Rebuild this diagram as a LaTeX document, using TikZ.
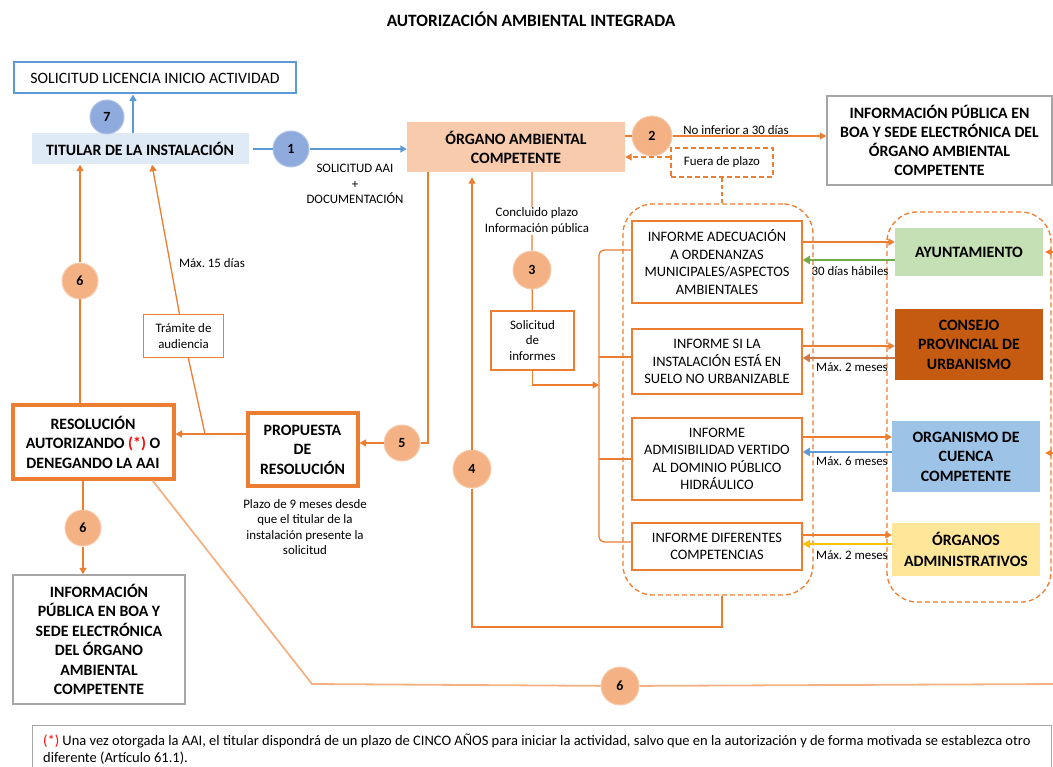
\documentclass[tikz,border=0pt]{standalone}
\usepackage{fontspec}
\setmainfont{Carlito}
\usetikzlibrary{positioning,arrows.meta}
\frenchspacing

\definecolor{naranja}{RGB}{237,125,49}
\definecolor{naranjaclaro}{RGB}{244,177,131}
\definecolor{salmon}{RGB}{248,203,173}
\definecolor{azul}{RGB}{91,155,213}
\definecolor{azulcirc}{RGB}{143,170,220}
\definecolor{azulclaro}{RGB}{222,235,247}
\definecolor{gris}{RGB}{166,166,166}
\definecolor{verde}{RGB}{112,173,71}
\definecolor{verdeclaro}{RGB}{197,224,180}
\definecolor{marron}{RGB}{197,90,17}
\definecolor{marronclaro}{RGB}{205,120,70}
\definecolor{celeste}{RGB}{157,195,230}
\definecolor{amarillo}{RGB}{255,230,153}
\definecolor{ambar}{RGB}{255,192,0}
\definecolor{rojo}{RGB}{255,0,0}

\begin{document}
\frenchspacing
\begin{tikzpicture}[x=1pt,y=-1pt]
		\tikzset{caja/.style = {shape=rectangle,align=center,inner sep=0pt,font=\fontsize{15.8}{19}\selectfont\bfseries}}
		\tikzset{informe/.style = {shape=rectangle,align=center,inner sep=0pt,draw=naranja,line width=1.5pt,fill=white,minimum width=170pt,font=\fontsize{14.4}{17.5}\selectfont}}
		\tikzset{peq/.style = {align=center,inner sep=1pt,font=\fontsize{12.9}{15.5}\selectfont}}
		\tikzset{circ/.style = {shape=circle,fill=naranjaclaro,draw=salmon,line width=1pt,inner sep=0pt,minimum size=37pt,font=\fontsize{14}{14}\selectfont\bfseries}}
		\tikzset{circazul/.style = {circ,fill=azulcirc,draw=azulcirc!70!white}}
		\tikzset{grupo/.style = {draw=naranja,line width=1.3pt,dash pattern=on 5pt off 3pt,rounded corners=30pt}}
		\tikzset{linea/.style = {draw=naranja,line width=1.3pt}}
		\tikzset{lineaclara/.style = {draw=naranjaclaro,line width=1.8pt}}
		\tikzset{flecha/.style = {linea,-{Triangle[width=7pt,length=6.5pt]}}}
		\tikzset{vuelta/.style = {line width=2pt,-{Triangle[width=8pt,length=7pt]}}}
		\tikzset{flechaazul/.style = {draw=azul,line width=1.5pt,-{Triangle[width=7pt,length=6.5pt]}}}

		\clip (0,0) rectangle (1053,767);

		% titulo
		\node[font=\fontsize{17.3}{20}\selectfont\bfseries] (titulo) at (531,19){AUTORIZACIÓN AMBIENTAL INTEGRADA};

		% titular y organo
		\node[caja,draw=azul,line width=2pt,fill=white,minimum width=282pt,minimum height=31pt,font=\fontsize{15.8}{19}\selectfont] (licencia) at (155,78){SOLICITUD LICENCIA INICIO ACTIVIDAD};
		\node[caja,fill=azulclaro,minimum width=217pt,minimum height=31pt] (titular) at (140,149){TITULAR DE LA INSTALACIÓN};
		\node[caja,fill=salmon,minimum width=218pt,minimum height=50pt] (organo) at (516,147){ÓRGANO AMBIENTAL\\COMPETENTE};
		\node[caja,draw=gris,line width=1.5pt,fill=white,minimum width=225pt,minimum height=89pt] (infopub) at (939.5,140.5){INFORMACIÓN PÚBLICA EN\\BOA Y SEDE ELECTRÓNICA DEL\\ÓRGANO AMBIENTAL\\COMPETENTE};
		\node[peq,draw=naranja,line width=1.2pt,dash pattern=on 5pt off 3pt,minimum width=102pt,minimum height=29pt] (fuera) at (722,162.5){Fuera de plazo};

		% grupos de informes y organismos
		\node[grupo,minimum width=190pt,minimum height=391pt] (grupoinf) at (718,399.5){};
		\node[grupo,minimum width=164pt,minimum height=390pt] (grupoorg) at (969,407){};

		% informes
		\node[informe,minimum height=82pt] (inf1) at (717,262){INFORME ADECUACIÓN\\A ORDENANZAS\\MUNICIPALES/ASPECTOS\\AMBIENTALES};
		\node[informe,minimum height=65pt] (inf2) at (717,361.5){INFORME SI LA\\INSTALACIÓN ESTÁ EN\\SUELO NO URBANIZABLE};
		\node[informe,minimum height=82pt] (inf3) at (717,459){INFORME\\ADMISIBILIDAD VERTIDO\\AL DOMINIO PÚBLICO\\HIDRÁULICO};
		\node[informe,minimum height=47pt] (inf4) at (717,546.5){INFORME DIFERENTES\\COMPETENCIAS};

		% organismos
		\node[caja,fill=verdeclaro,minimum width=148pt,minimum height=48pt] (ayto) at (969,252){AYUNTAMIENTO};
		\node[caja,fill=marron,minimum width=148pt,minimum height=71pt,font=\fontsize{15.8}{19.5}\selectfont\bfseries] (consejo) at (969,344.5){CONSEJO\\PROVINCIAL DE\\URBANISMO};
		\node[caja,fill=celeste,minimum width=148pt,minimum height=71pt,font=\fontsize{15.8}{19.5}\selectfont\bfseries] (cuenca) at (966,456.5){ORGANISMO DE\\CUENCA\\COMPETENTE};
		\node[caja,fill=amarillo,minimum width=148pt,minimum height=53pt,font=\fontsize{15.8}{20.5}\selectfont\bfseries] (organos) at (966,549.5){ÓRGANOS\\ADMINISTRATIVOS};

		% solicitud de informes y propuesta
		\node[peq,draw=naranja,line width=1.2pt,fill=white,minimum width=83pt,minimum height=59pt] (solinf) at (532.5,340.5){Solicitud\\de\\informes};
		\node[caja,draw=naranja,line width=4pt,fill=white,minimum width=110pt,minimum height=72pt,font=\fontsize{15.8}{19.5}\selectfont\bfseries] (prop) at (302.5,449.5){PROPUESTA\\DE\\RESOLUCIÓN};
		\node[caja,draw=naranja,line width=4pt,fill=white,minimum width=161pt,minimum height=73pt,font=\fontsize{15.8}{19.5}\selectfont\bfseries] (resol) at (93,442){RESOLUCIÓN\\AUTORIZANDO \textcolor{rojo}{(*)} O\\DENEGANDO LA AAI};
		\node[peq,draw=naranja,line width=1.2pt,fill=white,minimum width=80pt,minimum height=43pt] (tramite) at (183.5,336){Trámite de\\audiencia};
		\node[caja,draw=gris,line width=1.5pt,fill=white,minimum width=172pt,minimum height=129pt,font=\fontsize{15.8}{19.4}\selectfont\bfseries] (infoboa) at (99,639.5){INFORMACIÓN\\PÚBLICA EN BOA Y\\SEDE ELECTRÓNICA\\DEL ÓRGANO\\AMBIENTAL\\COMPETENTE};

		% circulos
		\node[circazul,minimum size=34pt] (c7) at (107,117){7};
		\node[circazul,minimum size=36pt] (c1) at (291,149){1};
		\node[circ,minimum size=40pt] (c2) at (652,136){2};
		\node[circ,minimum size=38pt] (c3) at (532,270){3};
		\node[circ,minimum size=38pt] (c4) at (472,469){4};
		\node[circ,minimum size=36pt] (c5) at (402,443){5};
		\node[circ,minimum size=36pt] (c6a) at (80,281){6};
		\node[circ,minimum size=36pt] (c6b) at (83,528){6};
		\node[circ,minimum size=38pt] (c6c) at (620,686){6};

		% puntos auxiliares
		\coordinate (union) at (205,434);
		\coordinate (llave) at (599,385);
		\coordinate (llavetop) at (599,250);
		\coordinate (llavebot) at (599,542);
		\coordinate (esq4) at (722,627);
		\coordinate (esq6) at (312,684);
		\coordinate (borde6) at (1060,684);
		\coordinate (borde1) at (1060,252);
		\coordinate (borde3) at (1060,453);

		% edges titular -> organo -> informacion publica
		\draw[flechaazul] (titular.north -| 133,0) to (licencia.south -| 133,0);
		\draw[flechaazul] ([xshift=4pt]titular.east) -- (c1) -- (organo.west |- c1);
		\draw[flecha] (organo.east |- c2) -- (c2) -- (infopub.west |- c2);
		\draw[flecha,dash pattern=on 5pt off 3pt] (fuera.west |- 0,157) -- (organo.east |- 0,157);
		\draw[linea,dash pattern=on 4pt off 3pt] (fuera.south) -- (fuera.south |- grupoinf.north);

		% edge organo -> solicitud de informes -> informes
		\draw[linea] (organo.south -| c3) -- (c3) -- (solinf);
		\draw[flecha] (solinf.south) |- (llave);
		\draw[linea,rounded corners=5pt] (inf1.west |- llavetop) -- (llavetop) -- (llavebot) -- (inf4.west |- llavebot);
		\draw[linea] (llavetop |- 0,357) -- (inf2.west |- 0,357);
		\draw[linea] (llavetop |- inf3) -- (inf3.west);

		% edges informes <-> organismos
		\draw[flecha] (inf1.east |- 0,242) -- (ayto.west |- 0,242);
		\draw[vuelta,draw=verde] (ayto.west |- 0,260) -- (inf1.east |- 0,260);
		\draw[flecha] (inf2.east |- 0,346) -- (consejo.west |- 0,346);
		\draw[vuelta,draw=marronclaro] (consejo.west |- 0,358) -- (inf2.east |- 0,358);
		\draw[flecha] (inf3.east |- 0,437) -- (cuenca.west |- 0,437);
		\draw[vuelta,draw=azul] (cuenca.west |- 0,452) -- (inf3.east |- 0,452);
		\draw[flecha] (inf4.east |- 0,535) -- (organos.west |- 0,535);
		\draw[vuelta,draw=ambar] (organos.west |- 0,544) -- (inf4.east |- 0,544);
		\draw[flecha] (borde1) -- ([xshift=2pt]ayto.east);
		\draw[flecha] (borde3) -- ([xshift=5pt]cuenca.east |- borde3);

		% edge informes -> organo (4)
		\draw[flecha,shorten >=5pt] (grupoinf.south -| esq4) -- (esq4) -| (c4) -- (organo.south -| c4);

		% edge organo -> propuesta -> resolucion
		\draw[flecha] (organo.south -| 428,0) |- (c5) -- (prop.east |- c5);
		\draw[flecha] (prop.west |- union) -- (resol.east |- union);
		\draw[flecha] (union) -- (tramite) -- (titular.south -| 152,0);

		% edges resolucion (6)
		\draw[flecha] (resol.north -| c6a) -- (c6a) -- (titular.south -| c6a);
		\draw[flecha] (resol.south -| c6b) -- (c6b) -- (infoboa.north -| c6b);
		\draw[lineaclara] ([xshift=-23pt]resol.south east) -- (esq6) -- (c6c) -- (borde6);

		% etiquetas
		\node[peq] (lab1) at (355,184){SOLICITUD AAI\\+\\DOCUMENTACIÓN};
		\node[peq,above] (lab2) at (736,136){No inferior a 30 días};
		\node[peq,fill=white] (lab3) at (537,221){Concluido plazo\\Información pública};
		\node[peq] (lab15) at (212,263){Máx. 15 días};
		\node[peq] (lab9) at (305,527){Plazo de 9 meses desde\\que el titular de la\\instalación presente la\\solicitud};
		\node[peq] (lab30) at (850,271){30 días hábiles};
		\node[peq] (labm1) at (852,367){Máx. 2 meses};
		\node[peq] (labm2) at (852,461){Máx. 6 meses};
		\node[peq] (labm3) at (852,555){Máx. 2 meses};

		% nota
		\node[draw=gris,line width=1pt,anchor=north west,minimum width=1019pt,minimum height=60pt] (nota) at (32,725){};
		\node[anchor=north west,align=left,inner sep=0pt,font=\fontsize{14.5}{17}\selectfont] (notatxt) at (43,734){\textcolor{rojo}{(*)} Una vez otorgada la AAI, el titular dispondrá de un plazo de CINCO AÑOS para iniciar la actividad, salvo que en la autorización y de forma motivada se establezca otro\\diferente (Artículo 61.1).};
	\end{tikzpicture}
\end{document}
